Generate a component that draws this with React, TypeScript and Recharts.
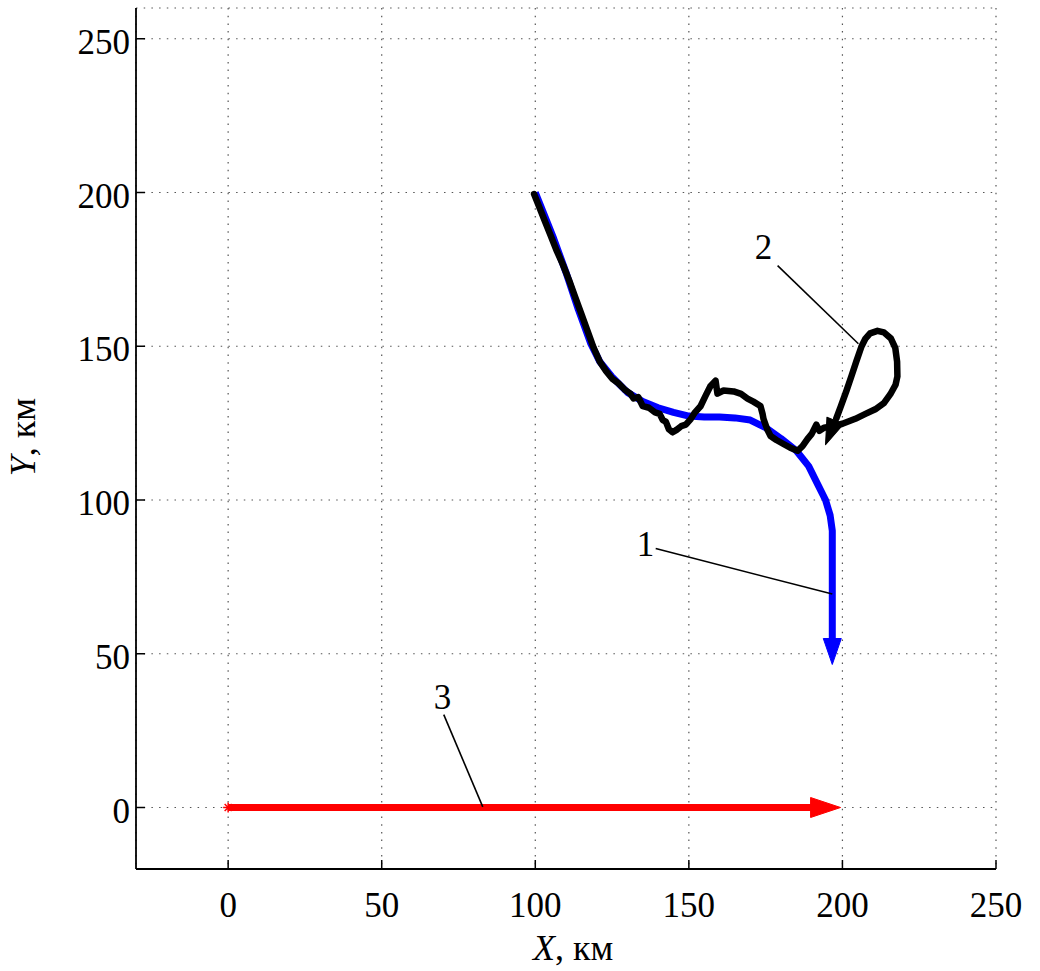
import React from 'react'
import { ComposedChart, Line, Scatter, XAxis, YAxis, CartesianGrid } from 'recharts'

// axis ticks (km)
const xTicks = [0, 50, 100, 150, 200, 250]
const yTicks = [0, 50, 100, 150, 200, 250]

// 1 - blue reference trajectory
const track1 = [
  { x: 100, y: 200 }, { x: 102, y: 195 }, { x: 106, y: 185 }, { x: 110, y: 174 },
  { x: 114, y: 162 }, { x: 118, y: 151 }, { x: 121, y: 145 }, { x: 125, y: 140 },
  { x: 130, y: 135 }, { x: 135, y: 132 }, { x: 140, y: 130 }, { x: 145, y: 128.5 },
  { x: 150, y: 127.3 }, { x: 155, y: 127 }, { x: 160, y: 127 }, { x: 165, y: 126.7 },
  { x: 170, y: 126 }, { x: 175, y: 123.5 }, { x: 180, y: 120 }, { x: 185, y: 116 },
  { x: 189, y: 111 }, { x: 192, y: 105 }, { x: 194.5, y: 100 }, { x: 196, y: 95 },
  { x: 196.7, y: 90 }, { x: 196.7, y: 55 },
]
const track1Tip = [{ x: 196.7, y: 46.5 }]

// 2 - black measured trajectory
const track2 = [
  { x: 99.6, y: 199.5 }, { x: 101, y: 196 }, { x: 103, y: 191 }, { x: 105, y: 186 },
  { x: 107, y: 181 }, { x: 109, y: 176.5 }, { x: 111, y: 171.5 }, { x: 113, y: 166 },
  { x: 115, y: 160.5 }, { x: 117, y: 155 }, { x: 119, y: 149.5 }, { x: 121, y: 145 },
  { x: 123, y: 142 }, { x: 125, y: 139.5 }, { x: 127, y: 138 }, { x: 129, y: 136 },
  { x: 131, y: 134.5 }, { x: 132, y: 133 }, { x: 133.5, y: 133.5 }, { x: 135, y: 130.5 },
  { x: 137, y: 130 }, { x: 139, y: 128.5 }, { x: 140.5, y: 128 }, { x: 141.5, y: 126 },
  { x: 142.5, y: 125.5 }, { x: 143.5, y: 123 }, { x: 144.7, y: 122 }, { x: 146, y: 122.8 },
  { x: 147.5, y: 124 }, { x: 149, y: 124.5 }, { x: 150.6, y: 126.3 }, { x: 152, y: 128.5 },
  { x: 153.8, y: 130.5 }, { x: 155.5, y: 134 }, { x: 157, y: 137 }, { x: 158.7, y: 138.8 },
  { x: 159.3, y: 134.6 }, { x: 161.3, y: 135.6 }, { x: 164.6, y: 135.3 }, { x: 167, y: 134.5 },
  { x: 169.1, y: 133 }, { x: 171, y: 132 }, { x: 173.3, y: 130.6 }, { x: 174, y: 128 },
  { x: 174.3, y: 126.4 }, { x: 175.5, y: 123 }, { x: 176.6, y: 120.8 }, { x: 178.5, y: 119.5 },
  { x: 180.8, y: 118.2 }, { x: 183, y: 117 }, { x: 185.4, y: 116 }, { x: 187, y: 117.5 },
  { x: 188.6, y: 119.8 }, { x: 190, y: 121.5 }, { x: 191.5, y: 124.5 }, { x: 192.5, y: 122.5 },
  { x: 194, y: 123.5 }, { x: 197, y: 124 }, { x: 200, y: 124.8 }, { x: 204.2, y: 126.4 },
  { x: 207.5, y: 128 }, { x: 210.7, y: 129.5 }, { x: 213.5, y: 131.5 }, { x: 215.6, y: 134.4 },
  { x: 217.3, y: 137.5 }, { x: 217.9, y: 140.2 }, { x: 217.8, y: 145 }, { x: 217.2, y: 149.5 },
  { x: 215.8, y: 152.5 }, { x: 213.5, y: 154.5 }, { x: 211.4, y: 155 }, { x: 209, y: 154.2 },
  { x: 207.5, y: 152.5 }, { x: 206.2, y: 149.9 }, { x: 204.5, y: 145 }, { x: 203, y: 140.5 },
  { x: 201.3, y: 135.5 }, { x: 199.5, y: 130.5 }, { x: 198, y: 126.5 },
]
const track2Tip = [{ x: 194.5, y: 118 }]

// 3 - red straight trajectory
const track3 = [{ x: 0, y: 0 }, { x: 190, y: 0 }]
const track3Start = [{ x: 0, y: 0 }]
const track3Tip = [{ x: 199.4, y: 0 }]

// callout leaders and their numbers
const leader1 = [{ x: 139.2, y: 84.2 }, { x: 196.7, y: 69.4 }]
const leader2 = [{ x: 178.9, y: 176.2 }, { x: 205.2, y: 150.8 }]
const leader3 = [{ x: 70.2, y: 30.2 }, { x: 82.9, y: 0.2 }]
const callouts = [
  { x: 135.9, y: 81.8, text: '1' },
  { x: 174.3, y: 178.5, text: '2' },
  { x: 69.8, y: 31.9, text: '3' },
]

const FONT = '"Liberation Serif", "Times New Roman", serif'

const XTick = ({ x, y, payload }: any) => (
  <g>
    <line x1={x} y1={y} x2={x} y2={y - 9} stroke="#000" strokeWidth={1.5} />
    <text x={x} y={y + 48} textAnchor="middle" fontFamily={FONT} fontSize={35} fill="#000">
      {payload.value}
    </text>
  </g>
)

const YTick = ({ x, y, payload }: any) => (
  <g>
    <line x1={x} y1={y} x2={x + 9} y2={y} stroke="#000" strokeWidth={1.5} />
    <text x={x - 6} y={y + 15} textAnchor="end" fontFamily={FONT} fontSize={35} fill="#000">
      {payload.value}
    </text>
  </g>
)

// arrow head with its tip at (cx, cy), pointing along angle (deg, screen coords)
const arrowHead = (color: string, angle: number, len: number, half: number) => (props: any) => {
  const { cx, cy } = props
  return (
    <polygon
      points={`0,0 ${-len},${-half} ${-len},${half}`}
      transform={`translate(${cx},${cy}) rotate(${angle})`}
      fill={color}
      stroke={color}
      strokeWidth={1}
      strokeLinejoin="round"
    />
  )
}

const StarMark = (props: any) => {
  const { cx, cy } = props
  const r = 5
  return (
    <g stroke="red" strokeWidth={1.5}>
      <line x1={cx - r} y1={cy} x2={cx + r} y2={cy} />
      <line x1={cx} y1={cy - r} x2={cx} y2={cy + r} />
      <line x1={cx - 3.5} y1={cy - 3.5} x2={cx + 3.5} y2={cy + 3.5} />
      <line x1={cx - 3.5} y1={cy + 3.5} x2={cx + 3.5} y2={cy - 3.5} />
    </g>
  )
}

const CalloutText = (props: any) => {
  const { cx, cy, payload } = props
  return (
    <text x={cx} y={cy} textAnchor="middle" fontFamily={FONT} fontSize={35} fill="#000">
      {payload.text}
    </text>
  )
}

export default function App() {
  return (
    <div style={{ position: 'absolute', left: 0, top: 0, width: 1040, height: 971, background: '#fff' }}>
      <ComposedChart width={1040} height={971} margin={{ top: 8, right: 44, bottom: 42, left: 36 }}>
        <CartesianGrid stroke="#555" strokeWidth={1.2} strokeDasharray="1.5 6.2" />
        <XAxis
          type="number"
          dataKey="x"
          domain={[-30, 250]}
          ticks={xTicks}
          allowDataOverflow
          height={60}
          tickLine={false}
          tickSize={0}
          tickMargin={0}
          tick={XTick}
          axisLine={{ stroke: '#000', strokeWidth: 1.8 }}
        />
        <YAxis
          type="number"
          dataKey="y"
          domain={[-20, 260]}
          ticks={yTicks}
          allowDataOverflow
          width={100}
          tickLine={false}
          tickSize={0}
          tickMargin={0}
          tick={YTick}
          axisLine={{ stroke: '#000', strokeWidth: 1.8 }}
        />

        <Line data={track3} dataKey="y" stroke="red" strokeWidth={7} dot={false} activeDot={false} isAnimationActive={false} />
        <Scatter data={track3Tip} dataKey="y" shape={arrowHead('red', 0, 30, 10)} isAnimationActive={false} />
        <Scatter data={track3Start} dataKey="y" shape={StarMark} isAnimationActive={false} />

        <Line data={track1} dataKey="y" stroke="#0000ff" strokeWidth={7} strokeLinejoin="round" dot={false} activeDot={false} isAnimationActive={false} />
        <Scatter data={track1Tip} dataKey="y" shape={arrowHead('#0000ff', 90, 26, 9)} isAnimationActive={false} />

        <Line data={track2} dataKey="y" stroke="#000" strokeWidth={6.5} strokeLinejoin="round" strokeLinecap="round" dot={false} activeDot={false} isAnimationActive={false} />
        <Scatter data={track2Tip} dataKey="y" shape={arrowHead('#000', 112, 26, 9)} isAnimationActive={false} />

        <Line data={leader1} dataKey="y" stroke="#000" strokeWidth={1.6} dot={false} activeDot={false} isAnimationActive={false} />
        <Line data={leader2} dataKey="y" stroke="#000" strokeWidth={1.6} dot={false} activeDot={false} isAnimationActive={false} />
        <Line data={leader3} dataKey="y" stroke="#000" strokeWidth={1.6} dot={false} activeDot={false} isAnimationActive={false} />
        <Scatter data={callouts} dataKey="y" shape={CalloutText} isAnimationActive={false} />
      </ComposedChart>

      <svg width={1040} height={971} style={{ position: 'absolute', left: 0, top: 0, pointerEvents: 'none' }}>
        <text x={533} y={960} fontFamily={FONT} fontSize={36} fill="#000">
          <tspan fontStyle="italic">X</tspan>, км
        </text>
        <text transform="translate(35,437) rotate(-90)" textAnchor="middle" fontFamily={FONT} fontSize={36} fill="#000">
          <tspan fontStyle="italic">Y</tspan>, км
        </text>
      </svg>
    </div>
  )
}
